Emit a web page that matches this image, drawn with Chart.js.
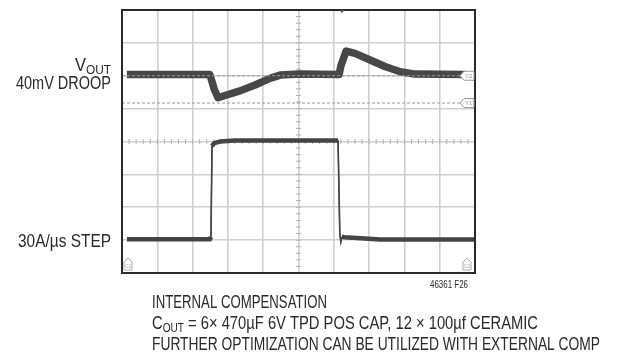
<!DOCTYPE html>
<html>
<head>
<meta charset="utf-8">
<script src="https://cdn.jsdelivr.net/npm/chart.js@4/dist/chart.umd.min.js"></script>
<style>
  html, body { margin: 0; padding: 0; background: #fff; }
  #wrap { width: 628px; height: 358px; }
</style>
</head>
<body>
<div id="wrap"><canvas id="scope" width="628" height="358"></canvas></div>
<script>
// scope screen in divisions: 10 across, 8 up
const voutX = [0.14, 2.49, 2.61, 2.72, 2.92, 3.34, 3.77, 4.19, 4.48, 5.04, 6.15, 6.20, 6.35, 6.60, 7.03, 7.45, 7.88, 8.30, 9.72];
const voutY = [6.04, 6.04, 5.60, 5.33, 5.40, 5.54, 5.72, 5.92, 6.02, 6.05, 6.04, 6.30, 6.75, 6.68, 6.48, 6.28, 6.12, 6.05, 6.04];
const loadX = [0.14, 2.49, 2.52, 2.55, 2.61, 2.78, 3.20, 6.12, 6.17, 6.20, 6.23, 6.30, 6.88, 7.30, 10.0];
const loadY = [1.03, 1.03, 1.10, 3.86, 3.95, 4.00, 4.03, 4.03, 1.20, 0.95, 1.10, 1.09, 1.05, 1.02, 1.02];
const refLevels = [6.0, 5.17];         // Y2, Y1 cursor lines
const refNames = ['Y2', 'Y1'];
const triggerX = 6.23;

const leftLabels = [
    { runs: [{ t: 'V', size: 18 }, { t: 'OUT', size: 13, dy: 3 }], right: 111, base: 71, width: 36 },
    { runs: [{ t: '40mV DROOP', size: 18 }], right: 111, base: 89, width: 95 },
    { runs: [{ t: '30A/\u00b5s STEP', size: 18 }], right: 111, base: 247, width: 93 }
];
const noteLines = [
    { runs: [{ t: 'INTERNAL COMPENSATION', size: 19 }], left: 152, base: 308, width: 175 },
    { runs: [{ t: 'C', size: 19 }, { t: 'OUT', size: 13, dy: 3 }, { t: ' = 6\u00d7 470\u00b5F 6V TPD POS CAP, 12 \u00d7 100\u00b5f CERAMIC', size: 19 }], left: 152, base: 329, width: 386 },
    { runs: [{ t: 'FURTHER OPTIMIZATION CAN BE UTILIZED WITH EXTERNAL COMP', size: 19 }], left: 152, base: 350, width: 448 }
];
const figLabel = { t: '46361 F26', right: 468, base: 288, width: 38, size: 11 };

const FONT = '"Liberation Sans Narrow", "Liberation Sans", Arial, sans-serif';

function drawRuns(ctx, runs, x, base, width, alignRight) {
    let natural = 0;
    runs.forEach(r => {
        ctx.font = r.size + 'px ' + FONT;
        natural += ctx.measureText(r.t).width;
    });
    const sx = width / natural;
    ctx.save();
    ctx.translate(alignRight ? x - width : x, base);
    ctx.scale(sx, 1);
    let cx = 0;
    runs.forEach(r => {
        ctx.font = r.size + 'px ' + FONT;
        ctx.fillText(r.t, cx, r.dy || 0);
        cx += ctx.measureText(r.t).width;
    });
    ctx.restore();
}

function toPts(xs, ys) {
    return xs.map((x, i) => ({ x: x, y: ys[i] }));
}

const scopeDecor = {
    id: 'scopeDecor',
    beforeDatasetsDraw(chart) {
        const { ctx, scales: { x, y } } = chart;
        // small ticks along the centre crosshair
        ctx.save();
        ctx.strokeStyle = '#b0b0b0';
        ctx.lineWidth = 1;
        const cx = x.getPixelForValue(5), cy = y.getPixelForValue(4);
        for (let v = 0.2; v < 10; v += 0.2) {
            const px = x.getPixelForValue(v);
            ctx.beginPath(); ctx.moveTo(px, cy - 2.5); ctx.lineTo(px, cy + 2.5); ctx.stroke();
        }
        for (let v = 0.2; v < 8; v += 0.2) {
            const py = y.getPixelForValue(v);
            ctx.beginPath(); ctx.moveTo(cx - 2.5, py); ctx.lineTo(cx + 2.5, py); ctx.stroke();
        }
        ctx.restore();
    },
    afterDraw(chart) {
        const { ctx, chartArea: a, scales: { x, y } } = chart;
        ctx.save();
        // frame
        ctx.strokeStyle = '#2a2a2a';
        ctx.lineWidth = 2;
        ctx.strokeRect(a.left, a.top, a.right - a.left, a.bottom - a.top);

        // cursor tags on right edge
        refLevels.forEach((lv, i) => {
            const py = y.getPixelForValue(lv);
            const r = a.right - 1;
            ctx.beginPath();
            ctx.moveTo(r - 14, py);
            ctx.lineTo(r - 10, py - 4.5);
            ctx.lineTo(r, py - 4.5);
            ctx.lineTo(r, py + 4.5);
            ctx.lineTo(r - 10, py + 4.5);
            ctx.closePath();
            ctx.fillStyle = '#fff';
            ctx.fill();
            ctx.strokeStyle = '#999';
            ctx.lineWidth = 1;
            ctx.stroke();
            ctx.fillStyle = '#999';
            ctx.font = '6px ' + FONT;
            ctx.textBaseline = 'middle';
            ctx.fillText(refNames[i], r - 9, py + 0.5);
        });
        ctx.textBaseline = 'alphabetic';

        // channel ground tags at the bottom corners
        [[a.left + 6, 'C1'], [a.right - 8, 'C2']].forEach(([gx, name]) => {
            const gy = a.bottom - 3;
            ctx.beginPath();
            ctx.moveTo(gx - 4, gy);
            ctx.lineTo(gx - 4, gy - 8);
            ctx.lineTo(gx, gy - 12);
            ctx.lineTo(gx + 4, gy - 8);
            ctx.lineTo(gx + 4, gy);
            ctx.closePath();
            ctx.fillStyle = '#fff';
            ctx.fill();
            ctx.strokeStyle = '#aaa';
            ctx.stroke();
            ctx.fillStyle = '#aaa';
            ctx.font = '5px ' + FONT;
            ctx.fillText(name, gx - 3, gy - 2);
        });

        // trigger mark at top
        const tx = x.getPixelForValue(triggerX);
        ctx.fillStyle = '#555';
        ctx.beginPath();
        ctx.moveTo(tx - 2.5, a.top);
        ctx.lineTo(tx + 2.5, a.top);
        ctx.lineTo(tx, a.top + 3);
        ctx.closePath();
        ctx.fill();

        // labels
        ctx.fillStyle = '#2b2829';
        leftLabels.forEach(l => drawRuns(ctx, l.runs, l.right, l.base, l.width, true));
        noteLines.forEach(l => drawRuns(ctx, l.runs, l.left, l.base, l.width, false));
        drawRuns(ctx, [{ t: figLabel.t, size: figLabel.size }], figLabel.right, figLabel.base, figLabel.width, true);
        ctx.restore();
    }
};

const gridOpts = (max) => ({
    color: c => (c.tick.value === 0 || c.tick.value === max) ? 'rgba(0,0,0,0)' : '#d0d0d0',
    lineWidth: 1.6,
    drawTicks: false
});

const loadWidth = ctx => {
    const dx = Math.abs(ctx.p1.parsed.x - ctx.p0.parsed.x);
    const dy = Math.abs(ctx.p1.parsed.y - ctx.p0.parsed.y);
    return dy > dx * 3 ? 1.6 : undefined;
};

new Chart(document.getElementById('scope'), {
    type: 'line',
    data: {
        datasets: [
            ...refLevels.map(lv => ({
                data: [{ x: 0, y: lv }, { x: 9.6, y: lv }],
                borderColor: '#9a9a9a',
                borderWidth: 1,
                borderDash: [3, 2],
                pointRadius: 0
            })),
            {
                data: toPts(voutX, voutY),
                borderColor: '#474747',
                borderWidth: 7.5,
                pointRadius: 0,
                borderJoinStyle: 'round'
            },
            {
                data: toPts(voutX, voutY),
                borderColor: '#878787',
                borderWidth: 4,
                pointRadius: 0,
                borderJoinStyle: 'round'
            },
            {
                data: toPts(loadX, loadY),
                borderColor: '#444444',
                borderWidth: 4.5,
                pointRadius: 0,
                segment: { borderWidth: loadWidth }
            },
            {
                data: toPts(loadX, loadY),
                borderColor: '#858585',
                borderWidth: 1.5,
                pointRadius: 0,
                segment: { borderColor: c => loadWidth(c) ? '#444444' : undefined, borderWidth: c => loadWidth(c) ? 1.2 : undefined }
            }
        ]
    },
    options: {
        responsive: false,
        devicePixelRatio: 1,
        animation: false,
        layout: { padding: { left: 122, top: 10, right: 153, bottom: 85 } },
        plugins: { legend: { display: false }, tooltip: { enabled: false } },
        scales: {
            x: {
                type: 'linear', min: 0, max: 10,
                ticks: { display: false, stepSize: 1 },
                grid: gridOpts(10),
                border: { display: false }
            },
            y: {
                type: 'linear', min: 0, max: 8,
                ticks: { display: false, stepSize: 1 },
                grid: gridOpts(8),
                border: { display: false }
            }
        }
    },
    plugins: [scopeDecor]
});
</script>
</body>
</html>
